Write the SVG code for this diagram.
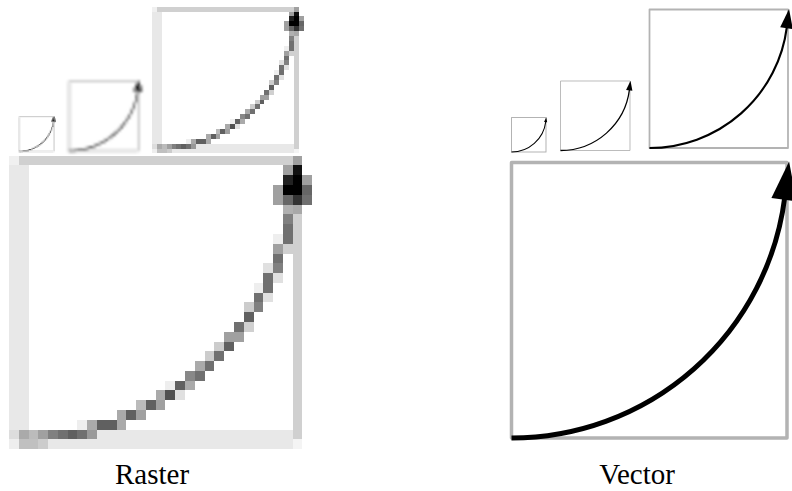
<svg xmlns="http://www.w3.org/2000/svg" xmlns:xlink="http://www.w3.org/1999/xlink" width="792" height="491" viewBox="0 0 792 491">
<style>
.vbox{fill:none;stroke:#b3b3b3;stroke-width:1.27;stroke-linejoin:round}
.vcurve{fill:none;stroke:#000;stroke-width:1.8}
.vhead{fill:#000;stroke:none}
.small .vbox{stroke-width:2.9}
.small .vcurve{stroke-width:2.9}
.large .vcurve{stroke-width:1.55}
.label{font-family:"Liberation Serif","DejaVu Serif",serif;font-size:29px;fill:#000;text-anchor:middle}
.crisp{shape-rendering:crispEdges}
</style>
<defs>
<filter id="soft" x="-10%" y="-10%" width="120%" height="120%">
<feGaussianBlur stdDeviation="0.38"/>
</filter>
<g id="px">
<rect x="0" y="0" width="1" height="1" fill="#f0f0f0"/>
<rect x="1" y="0" width="28" height="1" fill="#d0d0d0"/>
<rect x="29" y="0" width="1" height="1" fill="#a0a0a0"/>
<rect x="0" y="1" width="2" height="27" fill="#e8e8e8"/>
<rect x="29" y="6" width="1" height="23" fill="#d0d0d0"/>
<rect x="9" y="28" width="20" height="1" fill="#e8e8e8"/>
<rect x="4" y="29" width="25" height="1" fill="#e8e8e8"/>
<rect x="0" y="29" width="1" height="1" fill="#eeeeee"/>
<rect x="1" y="29" width="2" height="1" fill="#c0c0c0"/>
<rect x="3" y="29" width="1" height="1" fill="#cccccc"/>
<rect x="29" y="29" width="1" height="1" fill="#f4f4f4"/>
<rect x="28" y="1" width="1" height="1" fill="#a0a0a0"/>
<rect x="29" y="1" width="1" height="1" fill="#111111"/>
<rect x="28" y="2" width="1" height="1" fill="#222222"/>
<rect x="29" y="2" width="1" height="1" fill="#000000"/>
<rect x="30" y="2" width="1" height="1" fill="#a0a0a0"/>
<rect x="27" y="3" width="1" height="1" fill="#a0a0a0"/>
<rect x="28" y="3" width="2" height="1" fill="#000000"/>
<rect x="30" y="3" width="1" height="1" fill="#666666"/>
<rect x="27" y="4" width="1" height="1" fill="#a0a0a0"/>
<rect x="28" y="4" width="1" height="1" fill="#666666"/>
<rect x="29" y="4" width="1" height="1" fill="#333333"/>
<rect x="30" y="4" width="1" height="1" fill="#707070"/>
<rect x="28" y="5" width="1" height="1" fill="#b0b0b0"/>
<rect x="29" y="5" width="1" height="1" fill="#a8a8a8"/>
<rect x="28" y="6" width="1" height="1" fill="#808080"/>
<rect x="28" y="7" width="1" height="1" fill="#707070"/>
<rect x="27" y="8" width="1" height="1" fill="#eeeeee"/>
<rect x="28" y="8" width="1" height="1" fill="#707070"/>
<rect x="27" y="9" width="1" height="1" fill="#a0a0a0"/>
<rect x="28" y="9" width="1" height="1" fill="#d0d0d0"/>
<rect x="27" y="10" width="1" height="1" fill="#707070"/>
<rect x="26" y="11" width="1" height="1" fill="#e0e0e0"/>
<rect x="27" y="11" width="1" height="1" fill="#808080"/>
<rect x="26" y="12" width="1" height="1" fill="#707070"/>
<rect x="27" y="12" width="1" height="1" fill="#e0e0e0"/>
<rect x="25" y="13" width="1" height="1" fill="#eeeeee"/>
<rect x="26" y="13" width="1" height="1" fill="#707070"/>
<rect x="25" y="14" width="1" height="1" fill="#707070"/>
<rect x="26" y="14" width="1" height="1" fill="#e0e0e0"/>
<rect x="24" y="15" width="1" height="1" fill="#cccccc"/>
<rect x="25" y="15" width="1" height="1" fill="#808080"/>
<rect x="24" y="16" width="1" height="1" fill="#606060"/>
<rect x="23" y="17" width="1" height="1" fill="#707070"/>
<rect x="24" y="17" width="1" height="1" fill="#d0d0d0"/>
<rect x="22" y="18" width="2" height="1" fill="#a0a0a0"/>
<rect x="21" y="19" width="1" height="1" fill="#cccccc"/>
<rect x="22" y="19" width="1" height="1" fill="#606060"/>
<rect x="20" y="20" width="1" height="1" fill="#cccccc"/>
<rect x="21" y="20" width="1" height="1" fill="#707070"/>
<rect x="19" y="21" width="1" height="1" fill="#aaaaaa"/>
<rect x="20" y="21" width="1" height="1" fill="#707070"/>
<rect x="18" y="22" width="1" height="1" fill="#888888"/>
<rect x="19" y="22" width="1" height="1" fill="#707070"/>
<rect x="16" y="23" width="1" height="1" fill="#eeeeee"/>
<rect x="17" y="23" width="1" height="1" fill="#606060"/>
<rect x="18" y="23" width="1" height="1" fill="#aaaaaa"/>
<rect x="15" y="24" width="1" height="1" fill="#aaaaaa"/>
<rect x="16" y="24" width="1" height="1" fill="#505050"/>
<rect x="17" y="24" width="1" height="1" fill="#e0e0e0"/>
<rect x="13" y="25" width="1" height="1" fill="#bbbbbb"/>
<rect x="14" y="25" width="1" height="1" fill="#606060"/>
<rect x="15" y="25" width="1" height="1" fill="#a0a0a0"/>
<rect x="11" y="26" width="1" height="1" fill="#aaaaaa"/>
<rect x="12" y="26" width="1" height="1" fill="#606060"/>
<rect x="13" y="26" width="1" height="1" fill="#a0a0a0"/>
<rect x="7" y="27" width="1" height="1" fill="#eeeeee"/>
<rect x="8" y="27" width="1" height="1" fill="#aaaaaa"/>
<rect x="9" y="27" width="2" height="1" fill="#606060"/>
<rect x="11" y="27" width="1" height="1" fill="#aaaaaa"/>
<rect x="0" y="28" width="1" height="1" fill="#dddddd"/>
<rect x="1" y="28" width="1" height="1" fill="#aaaaaa"/>
<rect x="2" y="28" width="1" height="1" fill="#bbbbbb"/>
<rect x="3" y="28" width="1" height="1" fill="#a0a0a0"/>
<rect x="4" y="28" width="1" height="1" fill="#808080"/>
<rect x="5" y="28" width="1" height="1" fill="#707070"/>
<rect x="6" y="28" width="1" height="1" fill="#606060"/>
<rect x="7" y="28" width="1" height="1" fill="#707070"/>
<rect x="8" y="28" width="1" height="1" fill="#999999"/>
</g>
</defs>
<rect x="0" y="0" width="792" height="491" fill="#ffffff"/>
<g id="raster-small"><use xlink:href="#px" href="#px" transform="translate(18,116) scale(1.2225)" filter="url(#soft)"/></g>
<g id="raster-medium"><use xlink:href="#px" href="#px" transform="translate(66.7,80) scale(2.445)" filter="url(#soft)"/></g>
<g id="raster-large"><use xlink:href="#px" href="#px" class="crisp" transform="translate(152,6.7) scale(4.89)"/></g>
<g id="raster-big"><use xlink:href="#px" href="#px" class="crisp" transform="translate(9,155.7) scale(9.78)"/></g>
<g id="vector-small" class="small" transform="translate(511.5,117.5) scale(0.345)">
<rect x="0" y="0" width="100" height="100" class="vbox"/>
<path d="M0,100 A100,100 0 0 0 99.2,12.5" class="vcurve"/>
<polygon points="100.76,-0.37 103.46,14.11 94.34,12.89" class="vhead"/>
</g>
<g id="vector-medium" transform="translate(560.5,81) scale(0.695)">
<rect x="0" y="0" width="100" height="100" class="vbox"/>
<path d="M0,100 A100,100 0 0 0 99.2,12.5" class="vcurve"/>
<polygon points="100.76,-0.37 103.46,14.11 94.34,12.89" class="vhead"/>
</g>
<g id="vector-large" class="large" transform="translate(649.5,9.5) scale(1.385)">
<rect x="0" y="0" width="100" height="100" class="vbox"/>
<path d="M0,100 A100,100 0 0 0 99.2,12.5" class="vcurve"/>
<polygon points="100.76,-0.37 103.46,14.11 94.34,12.89" class="vhead"/>
</g>
<g id="vector-big" transform="translate(511.5,162.5) scale(2.755)">
<rect x="0" y="0" width="100" height="100" class="vbox"/>
<path d="M0,100 A100,100 0 0 0 99.2,12.5" class="vcurve"/>
<polygon points="100.76,-0.37 103.46,14.11 94.34,12.89" class="vhead"/>
</g>
<g id="labels">
<text x="152" y="484" class="label">Raster</text>
<text x="637" y="484" class="label">Vector</text>
</g>
</svg>
